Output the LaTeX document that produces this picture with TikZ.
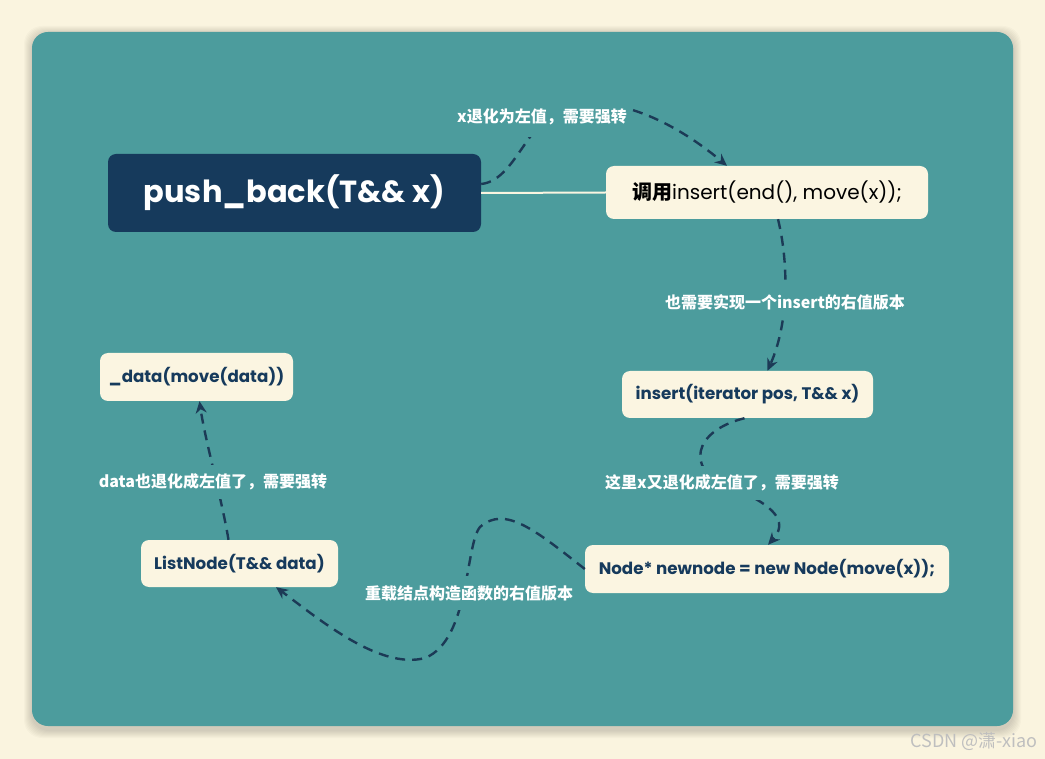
\documentclass[tikz,border=0pt]{standalone}
\usepackage{fontspec}
\setmainfont{Poppins}
\newfontfamily\cjk{Noto Sans CJK SC}
\usetikzlibrary{arrows.meta}
\definecolor{bgc}{HTML}{FAF4DF}
\definecolor{tealc}{HTML}{4C9C9D}
\definecolor{navy}{HTML}{163A5C}
\definecolor{arrowc}{HTML}{1C3A56}
\definecolor{boxc}{HTML}{FBF5E1}
\begin{document}
\begin{tikzpicture}[x=1pt,y=-1pt,
  box/.style={rounded corners=8pt, fill=boxc, inner sep=0pt, text=navy,
    font=\bfseries\fontsize{16.7}{19}\selectfont},
  lab/.style={fill=tealc, text=white, inner xsep=3pt, inner ysep=9pt,
    font=\cjk\bfseries\fontsize{16}{18}\selectfont},
  conn/.style={draw=arrowc, line width=2.4pt, dash pattern=on 10pt off 7pt,
    -{Stealth[length=12pt,width=11pt]}},
]
\useasboundingbox (0,0) rectangle (1045,759);
\fill[bgc] (0,0) rectangle (1045,759);
\foreach \i in {1,...,8}
  \fill[black, opacity=0.02, rounded corners=18pt] (32-\i,34-\i) rectangle (1013+\i,730+\i);
\fill[tealc, rounded corners=16pt] (32,32) rectangle (1013,726);

% nodes
\node[rounded corners=8pt, fill=navy, text=white, inner sep=0pt,
  minimum width=373pt, minimum height=78pt,
  font=\bfseries\fontsize{30.5}{34}\selectfont] (push) at (294.5,193) {push\_back(T\&\& x)};
\node[box, text=black, font=\fontsize{20}{23}\selectfont,
  minimum width=322pt, minimum height=53pt] (call) at (767,192.5)
  {{\cjk\bfseries 调用}insert(end(), move(x));};
\node[box, minimum width=251pt, minimum height=47pt] (ins) at (747.5,394.5)
  {insert(iterator pos, T\&\& x)};
\node[box, minimum width=364pt, minimum height=48pt] (newn) at (767,569)
  {Node* newnode = new Node(move(x));};
\node[box, minimum width=197pt, minimum height=47pt] (list) at (239.5,563.5)
  {ListNode(T\&\& data)};
\node[box, minimum width=193pt, minimum height=48pt] (data) at (196.5,377)
  {\_data(move(data))};

% solid link
\draw[boxc, line width=2pt] (push.east) -- (call.west);

% dashed connectors
\draw[conn] ([yshift=9pt]push.east) .. controls (520,180) and (530,102) .. (583,102)
  .. controls (640,102) and (690,135) .. ([xshift=-40pt]call.north);
\node[lab, inner ysep=12pt] (l1) at (542,117) {x退化为左值，需要强转};

\draw[conn] ([xshift=11pt]call.south) .. controls (788,260) and (790,320) .. ([xshift=20pt]ins.north);
\node[lab] (l2) at (785,302) {也需要实现一个insert的右值版本};

\draw[conn] ([xshift=-3pt]ins.south) .. controls (690,432) and (690,470) .. (722,483)
  .. controls (755,497) and (795,515) .. ([xshift=1pt]newn.north);
\node[lab] (l3) at (722,483) {这里x又退化成左值了，需要强转};

\draw[conn] (newn.west) .. controls (535,530) and (505,505) .. (480,527)
  .. controls (465,545) and (470,640) .. (425,658)
  .. controls (380,670) and (320,620) .. ([xshift=36.5pt]list.south);
\node[lab] (l4) at (469,593) {重载结点构造函数的右值版本};

\draw[conn] ([xshift=-11pt]list.north) .. controls (222,500) and (205,440) .. ([xshift=3pt]data.south);
\node[lab] (l5) at (213,482) {data也退化成左值了，需要强转};

% watermark
\node[text=gray!50, font=\cjk\fontsize{18}{20}\selectfont, inner sep=0pt] (wm) at (974,741) {CSDN @潇-xiao};
\end{tikzpicture}
\end{document}
